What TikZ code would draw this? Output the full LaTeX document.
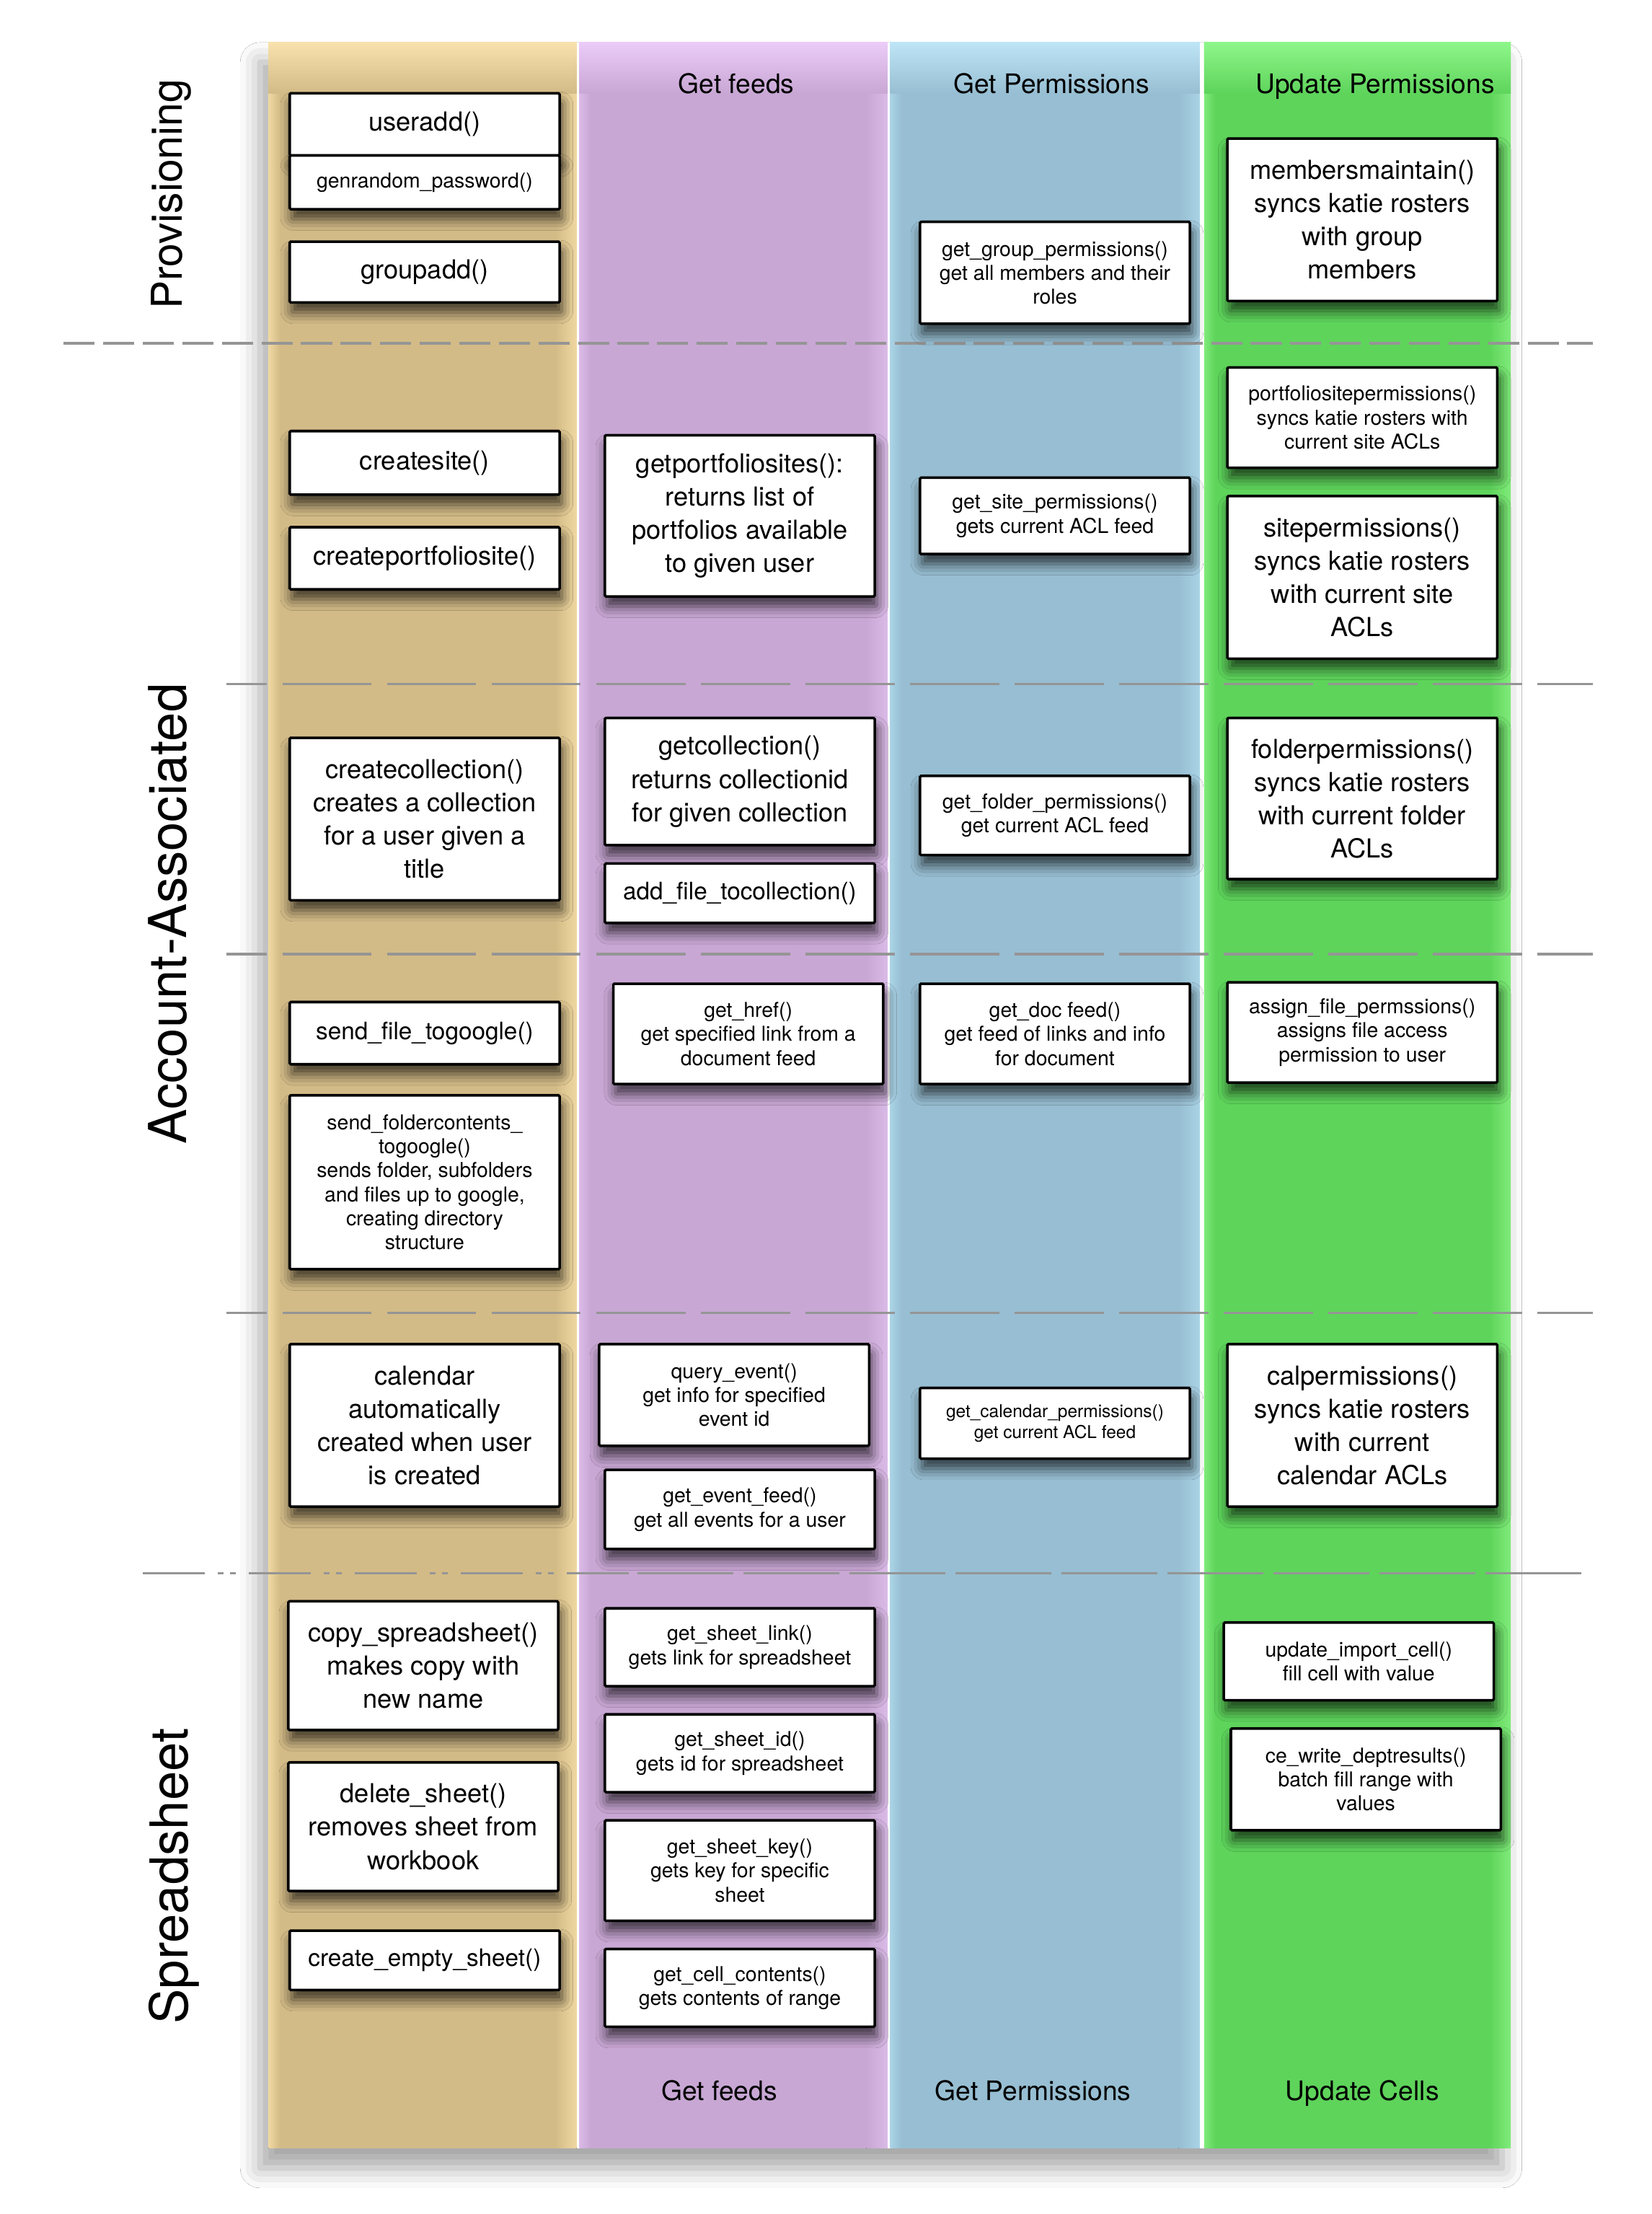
\documentclass[tikz,border=0pt]{standalone}
\usepackage{fontspec}
\setmainfont{TeX Gyre Heros}
\usetikzlibrary{shadows.blur}

\definecolor{tanB}{HTML}{D3BB87}
\definecolor{tanE}{HTML}{F0D8A2}
\definecolor{tanT}{HTML}{F8E1AD}
\definecolor{purpB}{HTML}{C8A7D4}
\definecolor{purpE}{HTML}{DABAE7}
\definecolor{purpT}{HTML}{EBCBF8}
\definecolor{blueB}{HTML}{97BED2}
\definecolor{blueE}{HTML}{AAD3E6}
\definecolor{blueT}{HTML}{BEE5F6}
\definecolor{greenB}{HTML}{5ED45B}
\definecolor{greenE}{HTML}{80EB7A}
\definecolor{greenT}{HTML}{8EF68A}
\definecolor{sepgray}{HTML}{959595}

\begin{document}
\begin{tikzpicture}
      [%%%%%%%%%%%%%%%%%%%%%%%%%%%%%%
      x=1pt, y=-1pt,
      box/.style={rectangle, draw=black, line width=1.8pt, fill=white,
        rounded corners=0.8pt, minimum width=191pt, inner sep=2pt, align=center,
        blur shadow={shadow xshift=1.5pt, shadow yshift=-7pt,
          shadow blur radius=8pt, shadow opacity=70}},
      bigtext/.style={font=\fontsize{18.5}{23.5}\selectfont},
      medtext/.style={font=\fontsize{17}{21}\selectfont},
      smalltext/.style={font=\fontsize{14.5}{17}\selectfont},
      tinytext/.style={font=\fontsize{12.5}{15}\selectfont},
      lanehead/.style={anchor=base, font=\fontsize{19}{23}\selectfont},
      rowname/.style={rotate=90, anchor=base, font=\fontsize{37}{44}\selectfont},
      sep/.style={draw=sepgray, line width=1.8pt},
      ]%%%%%%%%%%%%%%%%%%%%%%%%%%%%%%

      \useasboundingbox[fill=white] (0,0) rectangle (1169,1566.5);

      % lanes
      \fill[white, blur shadow={shadow xshift=-6pt, shadow yshift=-14pt,
        shadow blur radius=14pt, shadow opacity=35}] (190,30) rectangle (1069,1520);
      \foreach \xl/\xr/\c in {190/408/tan, 410/628/purp, 630/849/blue, 852/1069/green}{
        \fill[\c B] (\xl,30) rectangle (\xr,1520);
        \fill[left color=\c E, right color=\c B] (\xl,30) rectangle (\xl+8,1520);
        \fill[left color=\c B, right color=\c E] (\xr-15,30) rectangle (\xr,1520);
        \fill[top color=\c T, bottom color=\c B] (\xl,30) rectangle (\xr,66);
      }

      % separators
      \draw[sep, dash pattern=on 22pt off 6pt] (45,243) -- (1127,243);
      \draw[sep, dash pattern=on 63pt off 11pt, dash phase=34pt] (160,484) -- (1127,484);
      \draw[sep, dash pattern=on 63pt off 11pt, dash phase=34pt] (160,675) -- (1127,675);
      \draw[sep, dash pattern=on 63pt off 11pt, dash phase=34pt] (160,929) -- (1127,929);
      \draw[sep, dash pattern=on 44pt off 9pt on 4pt off 5pt on 4pt off 9pt] (101,1113) -- (451,1113);
      \draw[sep, dash pattern=on 68pt off 7pt] (451,1113) -- (1123,1113);

      % lane and row titles
      \node[lanehead] (headfeeds) at (521,66) {Get feeds};
      \node[lanehead] (headperm) at (744,66) {Get Permissions};
      \node[lanehead] (headupd) at (973,66) {Update Permissions};
      \node[lanehead] (footfeeds) at (509,1486) {Get feeds};
      \node[lanehead] (footperm) at (731,1486) {Get Permissions};
      \node[lanehead] (footupd) at (964,1486) {Update Cells};

      \node[rowname, font=\fontsize{30}{36}\selectfont] (provisioning) at (129,137.5) {Provisioning};
      \node[rowname] (account) at (132,646.5) {Account-Associated};
      \node[rowname] (spreadsheet) at (133,1327.5) {Spreadsheet};

      % provisioning column
      \node[box, bigtext, minimum height=44pt] (useradd) at (300.5,88) {useradd()};
      \node[box, smalltext, minimum height=38pt] (genpass) at (300.5,129) {genrandom\_password()};
      \node[box, bigtext, minimum height=43pt] (groupadd) at (300.5,192.5) {groupadd()};
      \node[box, bigtext, minimum height=45pt] (createsite) at (300.5,327.5) {createsite()};
      \node[box, bigtext, minimum height=44pt] (createport) at (300.5,395) {createportfoliosite()};
      \node[box, bigtext, minimum height=115pt] (createcoll) at (300.5,579.5)
        {createcollection()\\creates a collection\\for a user given a\\title};
      \node[box, medtext, minimum height=44pt] (sendfile) at (300.5,731) {send\_file\_togoogle()};
      \node[box, smalltext, minimum height=123pt] (sendfolder) at (300.5,836.5)
        {send\_foldercontents\_\\togoogle()\\sends folder, subfolders\\and files up to google,\\creating directory\\structure};
      \node[box, bigtext, minimum height=115pt] (calendar) at (300.5,1008.5)
        {calendar\\automatically\\created when user\\is created};
      \node[box, bigtext, minimum height=91pt] (copysheet) at (299.5,1178.5)
        {copy\_spreadsheet()\\makes copy with\\new name};
      \node[box, bigtext, minimum height=91pt] (delsheet) at (299.5,1292.5)
        {delete\_sheet()\\removes sheet from\\workbook};
      \node[box, medtext, minimum height=42pt] (emptysheet) at (300.5,1387) {create\_empty\_sheet()};

      % get feeds column
      \node[box, bigtext, minimum height=114pt] (getport) at (523.5,365)
        {getportfoliosites():\\returns list of\\portfolios available\\to given user};
      \node[box, bigtext, minimum height=90pt] (getcoll) at (523.5,553)
        {getcollection()\\returns collectionid\\for given collection};
      \node[box, medtext, minimum height=42pt] (addfile) at (523.5,632) {add\_file\_tocollection()};
      \node[box, smalltext, minimum height=71pt] (gethref) at (529.5,731.5)
        {get\_href()\\get specified link from a\\document feed};
      \node[box, smalltext, minimum height=72pt] (queryevent) at (519.5,987)
        {query\_event()\\get info for specified\\event id};
      \node[box, smalltext, minimum height=56pt] (eventfeed) at (523.5,1068)
        {get\_event\_feed()\\get all events for a user};
      \node[box, smalltext, minimum height=55pt] (sheetlink) at (523.5,1165.5)
        {get\_sheet\_link()\\gets link for spreadsheet};
      \node[box, smalltext, minimum height=55pt] (sheetid) at (523.5,1240.5)
        {get\_sheet\_id()\\gets id for spreadsheet};
      \node[box, smalltext, minimum height=71pt] (sheetkey) at (523.5,1323.5)
        {get\_sheet\_key()\\gets key for specific\\sheet};
      \node[box, smalltext, minimum height=55pt] (cellcont) at (523.5,1406.5)
        {get\_cell\_contents()\\gets contents of range};

      % get permissions column
      \node[box, smalltext, minimum height=72pt] (groupperm) at (746.5,193)
        {get\_group\_permissions()\\get all members and their\\roles};
      \node[box, smalltext, minimum height=54pt] (siteperm) at (746.5,365)
        {get\_site\_permissions()\\gets current ACL feed};
      \node[box, smalltext, minimum height=56pt] (folderperm) at (746.5,577)
        {get\_folder\_permissions()\\get current ACL feed};
      \node[box, smalltext, minimum height=71pt] (docfeed) at (746.5,731.5)
        {get\_doc feed()\\get feed of links and info\\for document};
      \node[box, tinytext, minimum height=50pt] (calperm) at (746.5,1007)
        {get\_calendar\_permissions()\\get current ACL feed};

      % update permissions column
      \node[box, bigtext, minimum height=115pt] (membersync) at (964,155.5)
        {membersmaintain()\\syncs katie rosters\\with group\\members};
      \node[box, smalltext, minimum height=71pt] (portsync) at (964,295.5)
        {portfoliositepermissions()\\syncs katie rosters with\\current site ACLs};
      \node[box, bigtext, minimum height=115pt] (sitesync) at (964,408.5)
        {sitepermissions()\\syncs katie rosters\\with current site\\ACLs};
      \node[box, bigtext, minimum height=114pt] (foldersync) at (964,565)
        {folderpermissions()\\syncs katie rosters\\with current folder\\ACLs};
      \node[box, smalltext, minimum height=71pt] (assignperm) at (964,730.5)
        {assign\_file\_permssions()\\assigns file access\\permission to user};
      \node[box, bigtext, minimum height=115pt] (calsync) at (964,1008.5)
        {calpermissions()\\syncs katie rosters\\with current\\calendar ACLs};
      \node[box, smalltext, minimum height=55pt] (updcell) at (961.5,1175.5)
        {update\_import\_cell()\\fill cell with value};
      \node[box, smalltext, minimum height=72pt] (cewrite) at (966.5,1259)
        {ce\_write\_deptresults()\\batch fill range with\\values};
    \end{tikzpicture}
\end{document}
